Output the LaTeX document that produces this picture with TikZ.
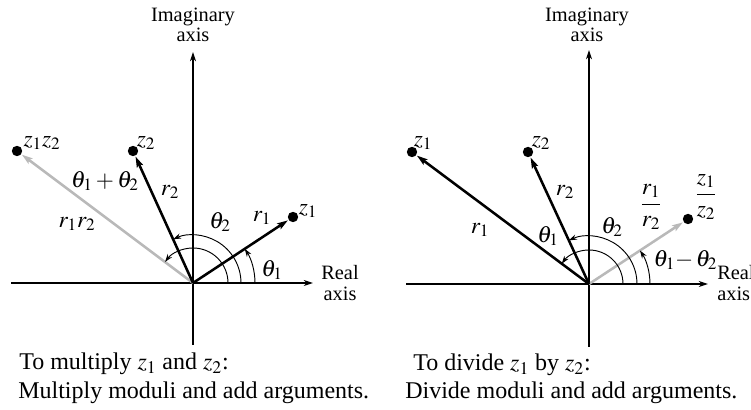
\documentclass[tikz,border=0pt]{standalone}
\usepackage{amsmath}
\usepackage{mathptmx}
\usepackage[no-math]{fontspec}
\setmainfont{Liberation Serif}
\usetikzlibrary{arrows.meta,calc}
\begin{document}
\begin{tikzpicture}[x=0.75pt,y=0.75pt,
  axis/.style={line width=0.8pt,-{Stealth[length=7pt,width=4.5pt]}},
  vec/.style={line width=1.9pt,-{Stealth[length=8pt,width=5pt,inset=1.5pt]},shorten >=0.5pt},
  gvec/.style={vec,draw=gray!55},
  angarc/.style={line width=0.7pt,-{Stealth[length=6pt,width=4pt]}},
  dot/.style={circle,fill=black,inner sep=0pt,minimum size=7.8pt},
  lab/.style={font=\fontsize{17.5}{20}\selectfont,inner sep=1pt},
  axlab/.style={font=\fontsize{15.3}{15.5}\selectfont,align=center,inner sep=0pt},
  captxt/.style={font=\fontsize{18}{21}\selectfont,anchor=west,inner sep=0pt}]
\useasboundingbox (0,0) rectangle (751,410);
% ---------------- left diagram ----------------
\coordinate (O1) at (193,127);
\coordinate (yb1) at (193,65);
\coordinate (yt1) at (193,358);
\coordinate (xl1) at (11,127);
\coordinate (xr1) at (313,127);
\draw[axis] (yb1) -- (yt1);
\draw[axis] (xl1) -- (xr1);
\node[dot] (Lz1) at (293,193) {};
\node[dot] (Lz2) at (133,259) {};
\node[dot] (Lz12) at (17,259) {};
\draw[gvec] (O1) -- (Lz12);
\draw[vec] (O1) -- (Lz2);
\draw[vec] (O1) -- (Lz1);
\draw[angarc] ($(O1)+(35,0)$) arc[start angle=0,end angle=143,radius=35];
\draw[angarc] ($(O1)+(48,0)$) arc[start angle=0,end angle=114.4,radius=48];
\draw[angarc] ($(O1)+(62,0)$) arc[start angle=0,end angle=33.4,radius=62];
\node[axlab] (Lim) at (193,385) {Imaginary\\axis};
\node[axlab] (Lre) at (340,127) {Real\\axis};
\node[lab] (Lt12) at (105,229) {$\theta_1+\theta_2$};
\node[lab] (Lr2) at (170,218) {$r_2$};
\node[lab] (Lr12) at (77,186) {$r_1r_2$};
\node[lab] (Lt2) at (220,188) {$\theta_2$};
\node[lab] (Lr1) at (262,192) {$r_1$};
\node[lab] (Lt1) at (272,140) {$\theta_1$};
\node[lab] (Lz1l) at (308,199) {$z_1$};
\node[lab] (Lz2l) at (146,267) {$z_2$};
\node[lab] (Lz12l) at (42,267) {$z_1z_2$};
\node[captxt] (Lc1) at (19,46) {To multiply $z_1$ and $z_2$:};
\node[captxt] (Lc2) at (18,17) {Multiply moduli and add arguments.};
% ---------------- right diagram ----------------
\coordinate (O2) at (589,126);
\coordinate (yb2) at (589,63);
\coordinate (yt2) at (589,360);
\coordinate (xl2) at (406,126);
\coordinate (xr2) at (708,126);
\draw[axis] (yb2) -- (yt2);
\draw[axis] (xl2) -- (xr2);
\node[dot] (Rz1) at (412,258) {};
\node[dot] (Rz2) at (528,258) {};
\node[dot] (Rq) at (688,191) {};
\draw[gvec] (O2) -- (Rq);
\draw[vec] (O2) -- (Rz1);
\draw[vec] (O2) -- (Rz2);
\draw[angarc] ($(O2)+(34,0)$) arc[start angle=0,end angle=143.3,radius=34];
\draw[angarc] ($(O2)+(48,0)$) arc[start angle=0,end angle=114.8,radius=48];
\draw[angarc] ($(O2)+(61,0)$) arc[start angle=0,end angle=33.3,radius=61];
\node[axlab] (Rim) at (587,385) {Imaginary\\axis};
\node[axlab,align=left,anchor=west] (Rre) at (717,127) {Real\\axis};
\node[lab] (Rr1) at (480,180) {$r_1$};
\node[lab] (Rt1) at (548,174) {$\theta_1$};
\node[lab] (Rr2) at (565,218) {$r_2$};
\node[lab] (Rt2) at (612,183) {$\theta_2$};
\node[lab] (Rrq) at (651,203) {$\dfrac{r_1}{r_2}$};
\node[lab] (Rzq) at (706,213) {$\dfrac{z_1}{z_2}$};
\node[lab,anchor=west] (Rtd) at (652,150) {$\theta_1{-}\,\theta_2$};
\node[lab] (Rz1l) at (423,267) {$z_1$};
\node[lab] (Rz2l) at (541,267) {$z_2$};
\node[captxt] (Rc1) at (413,45) {To divide $z_1$ by $z_2$:};
\node[captxt] (Rc2) at (405,17) {Divide moduli and add arguments.};
\end{tikzpicture}
\end{document}
